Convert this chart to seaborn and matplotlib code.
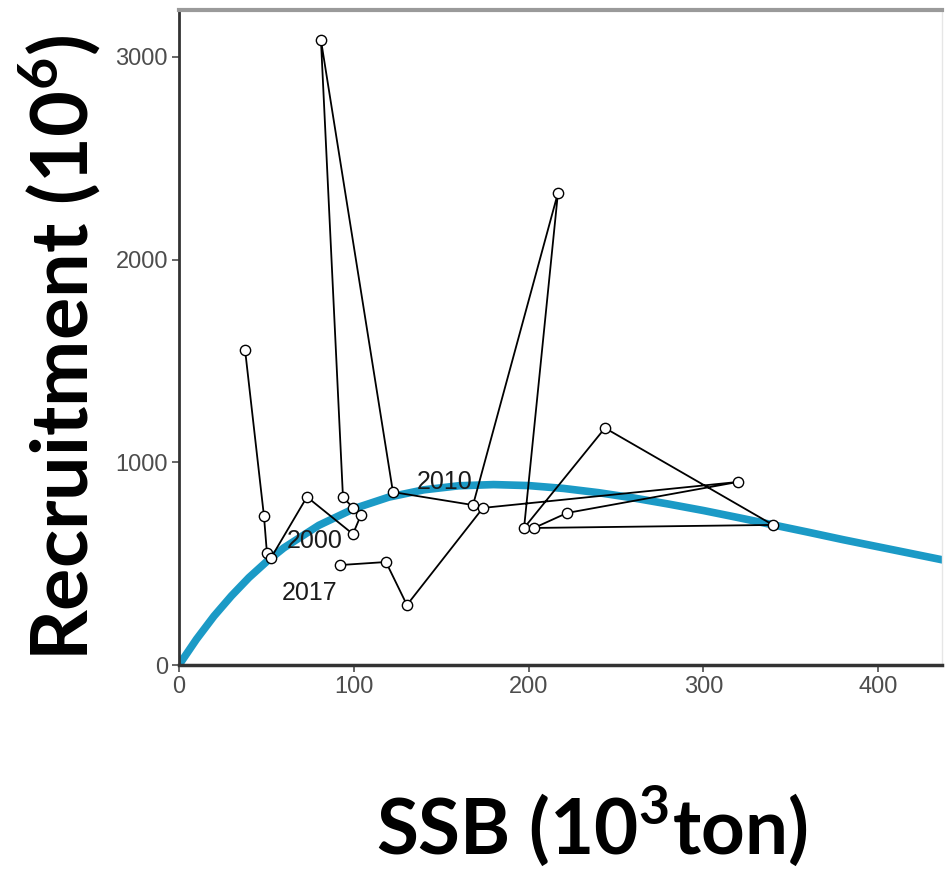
import matplotlib
matplotlib.use("Agg")
import matplotlib.pyplot as plt
import seaborn as sns
import pandas as pd

# ---- data ----
years = list(range(1995, 2018))
ssb = [37.8, 48.6, 50.3, 52.6, 73.2, 99.5, 104.1, 99.5, 93.8, 81.2, 122.4, 168.2,
       216.8, 197.4, 243.7, 339.8, 203.1, 222.0, 319.8, 173.9, 130.4, 118.4, 92.1]
recruit = [1554, 735, 553, 528, 829, 646, 740, 775, 829, 3083, 853, 789,
           2329, 676, 1169, 691, 676, 750, 903, 775, 296, 508, 493]

curve_ssb = [0, 10, 20, 30, 40, 50, 60, 80, 100, 120, 140, 160, 180, 200, 220,
             240, 260, 280, 300, 320, 340, 360, 380, 400, 420, 440]
curve_rec = [0, 127, 241, 341, 431, 509, 578, 689, 771, 828, 864, 884, 890, 885, 871,
             850, 824, 794, 762, 727, 691, 655, 618, 583, 548, 513]

label_years = [2000, 2010, 2017]
label_pos = {2000: (77.8, 612), 2010: (152.2, 903), 2017: (74.9, 355)}

x_ticks = [0, 100, 200, 300, 400]
y_ticks = [0, 1000, 2000, 3000]

obs = pd.DataFrame({"year": years, "SSB": ssb, "R": recruit})
fit = pd.DataFrame({"SSB": curve_ssb, "R": curve_rec})

sns.set_style("white")
plt.rcParams["mathtext.fontset"] = "custom"
plt.rcParams["mathtext.bf"] = "Lato:bold"
plt.rcParams["mathtext.rm"] = "Lato"

fig = plt.figure(figsize=(9.49, 8.73), dpi=100)
ax = fig.add_axes([179 / 949, 1 - 665 / 873, (942 - 179) / 949, (665 - 10) / 873])

sns.lineplot(data=fit, x="SSB", y="R", ax=ax, color="#1b9ac6", linewidth=5.5,
             sort=False, zorder=2)
sns.lineplot(data=obs, x="SSB", y="R", ax=ax, color="black", linewidth=1.3,
             sort=False, estimator=None, zorder=3)
sns.scatterplot(data=obs, x="SSB", y="R", ax=ax, marker="o", s=55,
                facecolor="white", edgecolor="black", linewidth=1.0, zorder=4)

tickfont = ["Liberation Sans", "DejaVu Sans"]
for yr in label_years:
    tx, ty = label_pos[yr]
    ax.text(tx, ty, str(yr), ha="center", va="center", fontsize=18,
            color="#1a1a1a", family=tickfont, zorder=5)

ax.set_xlim(0, 436.5)
ax.set_ylim(0, 3231)
ax.set_xticks(x_ticks)
ax.set_yticks(y_ticks)
ax.set_xticklabels([str(v) for v in x_ticks], family=tickfont, fontsize=17, color="#4d4d4d")
ax.set_yticklabels([str(v) for v in y_ticks], family=tickfont, fontsize=17, color="#4d4d4d")
ax.tick_params(axis="both", length=5, width=1.2, color="#4d4d4d", pad=3,
               bottom=True, left=True)
ax.set_xlabel("")
ax.set_ylabel("")

ax.spines["left"].set_color("#333333")
ax.spines["left"].set_linewidth(2)
ax.spines["bottom"].set_color("#333333")
ax.spines["bottom"].set_linewidth(2.5)
ax.spines["top"].set_color("#9a9a9a")
ax.spines["top"].set_linewidth(3)
ax.spines["right"].set_color("#e6e6e6")
ax.spines["right"].set_linewidth(1)

fig.text(60 / 949, 1 - 348 / 873, r"Recruitment (10$^{\mathbf{6}}$)", rotation=90,
         ha="center", va="center", fontsize=57, fontweight="bold", family="Lato",
         color="black")
fig.text(592 / 949, 1 - 826 / 873, r"SSB (10$^{\mathbf{3}}$ton)",
         ha="center", va="center", fontsize=55, fontweight="bold", family="Lato",
         color="black")

fig.savefig("out.png", dpi=100)
